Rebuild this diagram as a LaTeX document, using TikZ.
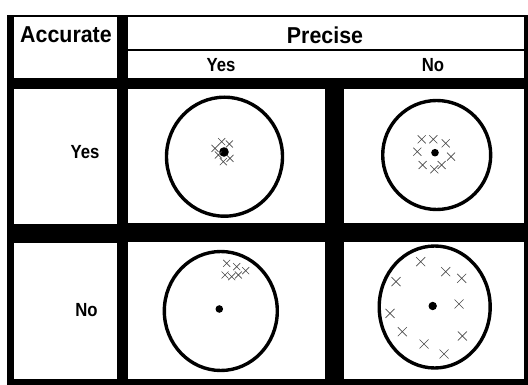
\documentclass[tikz,border=0pt]{standalone}
\usepackage{fontspec}
\setmainfont{Liberation Sans}
\usepackage{tikz}
\usetikzlibrary{calc}
\definecolor{ink}{HTML}{000000}
\definecolor{shotgray}{HTML}{4A4A4A}
\tikzset{
  cell/.style={fill=white, draw=none},
  head/.style={font=\fontsize{23}{23}\selectfont\bfseries, inner sep=0pt, xscale=0.93},
  sub/.style={font=\fontsize{19}{19}\selectfont\bfseries, inner sep=0pt, xscale=0.88},
  ring/.style={draw=ink, line width=3.4pt},
  shot/.style={draw=shotgray, line width=0.7pt}
}
\newcommand{\shots}[2]{% size, list of x/y
  \foreach \sx/\sy in {#2}
    \draw[shot] (\sx-#1,\sy-#1) -- ++(2*#1,2*#1) (\sx-#1,\sy+#1) -- ++(2*#1,-2*#1);
}
\begin{document}
\begin{tikzpicture}[x=1pt,y=-1pt]
\useasboundingbox (0,0) rectangle (528,385);
\fill[white] (0,0) rectangle (528,385);
\fill[ink] (7,15) rectangle (528,385);

% header cells
\fill[cell] (14,17) rectangle (117,78);
\fill[cell] (128,17) rectangle (524,49.5);
\fill[cell] (128,51.5) rectangle (524,78);
\node[head] (accurate) at (66,35) {Accurate};
\node[head] (precise) at (325,35) {Precise};
\node[sub] (precyes) at (221,65) {Yes};
\node[sub] (precno) at (433,65) {No};

% row label cells
\fill[cell] (14,89) rectangle (117,224);
\fill[cell] (14,243) rectangle (117,379);
\node[sub] (accyes) at (85,152) {Yes};
\node[sub] (accno) at (86.5,310) {No};

% target cells
\fill[cell] (128,89) rectangle (325,223);
\fill[cell] (344,89) rectangle (524,223);
\fill[cell] (128,242) rectangle (325,379);
\fill[cell] (344,242) rectangle (524,379);

% accurate and precise
\draw[ring] (224.5,156.7) ellipse (58 and 59.5);
\fill[ink] (224,152) circle (4.8);
\shots{3.5}{215/148.3, 221.7/141.7, 229.3/144, 218.3/155, 230/158.3, 223.3/161.7}

% accurate, not precise
\draw[ring] (436.7,155) ellipse (54 and 54.5);
\fill[ink] (435,152.7) circle (3.8);
\shots{4}{421.7/139.3, 433.3/139.3, 445.7/143.3, 417.3/151.7, 451/156.7, 422.7/165, 434.3/169.3, 441.7/165}

% precise, not accurate
\draw[ring] (220.8,311) ellipse (56.5 and 59.5);
\fill[ink] (219.3,309) circle (3.8);
\shots{3.5}{226.7/263.3, 236.7/266.7, 245.7/270.7, 225/275, 231.7/276.7, 238.3/275}

% neither
\draw[ring] (434.7,307) ellipse (55.5 and 61);
\fill[ink] (432.7,306) circle (4.2);
\shots{4.5}{420.7/261.7, 445.7/271.7, 461.7/278.3, 396/281.7, 459/304, 390/313.3, 402.3/331.7, 424/344, 444/354, 462.3/336}
\end{tikzpicture}
\end{document}
